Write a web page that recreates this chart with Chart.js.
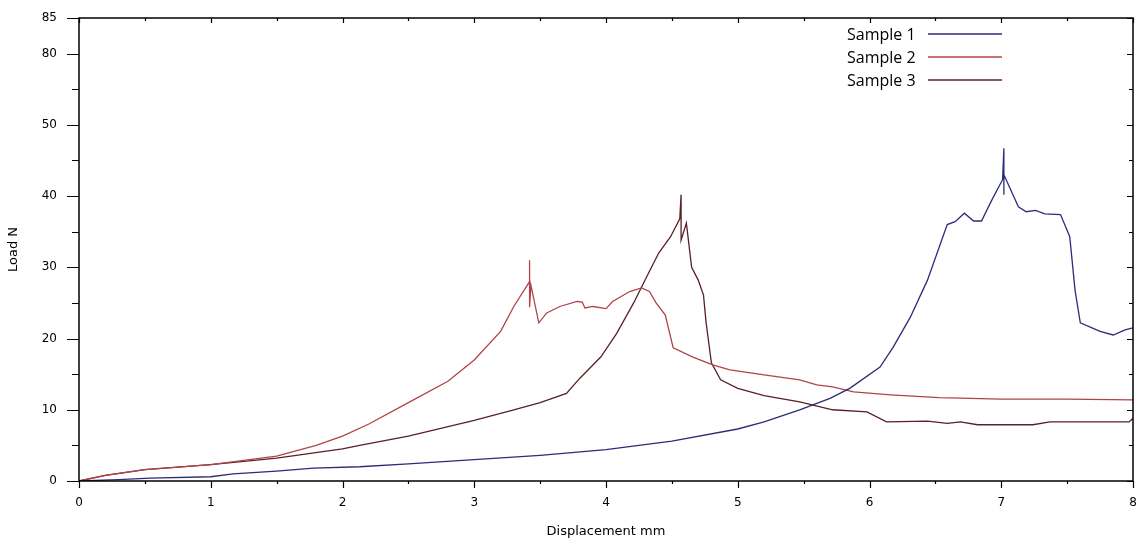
<!DOCTYPE html>
<html>
<head>
<meta charset="utf-8">
<script src="https://cdn.jsdelivr.net/npm/chart.js@4/dist/chart.umd.min.js"></script>
<style>
  html, body { margin: 0; padding: 0; background: #fff; }
  #chart { display: block; }
</style>
</head>
<body>
<canvas id="chart" width="1144" height="544"></canvas>
<script>
// series names
const seriesNames = ['Sample 1', 'Sample 2', 'Sample 3'];

// Sample 1 (displacement mm / load N)
const s1x = [0, 0.3, 0.54, 1.0, 1.17, 1.5, 1.78, 2.13, 2.5, 3.0, 3.5, 4.0, 4.5, 5.0, 5.2, 5.47, 5.7, 5.85, 6.08, 6.18, 6.31, 6.44, 6.59, 6.65, 6.72, 6.79, 6.85, 6.93, 7.01, 7.02, 7.02, 7.02, 7.13, 7.19, 7.26, 7.33, 7.45, 7.52, 7.56, 7.6, 7.75, 7.85, 7.94, 8.0];
const s1y = [0, 0.2, 0.4, 0.6, 1.0, 1.4, 1.8, 2.0, 2.4, 3.0, 3.6, 4.4, 5.6, 7.3, 8.3, 10, 11.6, 13, 16, 18.8, 23, 28.2, 36, 36.4, 37.6, 36.5, 36.5, 39.5, 42.3, 46.7, 40.2, 43, 38.5, 37.8, 38, 37.5, 37.4, 34.3, 26.8, 22.2, 21, 20.5, 21.2, 21.5];

// Sample 2
const s2x = [0, 0.2, 0.5, 1.0, 1.5, 1.8, 2.0, 2.2, 2.5, 2.8, 3.0, 3.2, 3.3, 3.42, 3.42, 3.42, 3.43, 3.49, 3.55, 3.65, 3.78, 3.82, 3.84, 3.9, 4.0, 4.05, 4.18, 4.27, 4.33, 4.38, 4.45, 4.51, 4.66, 4.81, 4.94, 5.2, 5.47, 5.6, 5.72, 5.88, 6.16, 6.53, 7.0, 7.5, 8.0];
const s2y = [0, 0.8, 1.6, 2.3, 3.5, 5, 6.3, 8, 11, 14, 17, 21, 24.5, 28, 31, 24.4, 27.5, 22.2, 23.6, 24.5, 25.2, 25.1, 24.3, 24.5, 24.2, 25.2, 26.6, 27.1, 26.6, 25, 23.3, 18.7, 17.4, 16.3, 15.6, 14.9, 14.2, 13.5, 13.2, 12.5, 12.1, 11.7, 11.5, 11.5, 11.4];

// Sample 3
const s3x = [0, 0.2, 0.5, 1.0, 1.5, 2.0, 2.13, 2.5, 3.0, 3.3, 3.5, 3.7, 3.8, 3.96, 4.08, 4.21, 4.31, 4.4, 4.49, 4.56, 4.57, 4.57, 4.61, 4.65, 4.7, 4.74, 4.76, 4.8, 4.87, 5.0, 5.2, 5.47, 5.72, 5.98, 6.13, 6.44, 6.59, 6.69, 6.82, 7.24, 7.37, 7.97, 8.0];
const s3y = [0, 0.8, 1.6, 2.3, 3.2, 4.5, 5.0, 6.3, 8.5, 10, 11, 12.3, 14.4, 17.4, 20.7, 25, 28.7, 32, 34.3, 36.8, 40.2, 33.8, 36.2, 30, 28.2, 26.1, 22.2, 16.6, 14.2, 13, 12, 11.1, 10, 9.7, 8.3, 8.4, 8.1, 8.3, 7.9, 7.9, 8.3, 8.3, 8.8];

// tick labels as printed on the original
const xTickLabels = ['0', '1', '2', '3', '4', '5', '6', '7', '8'];
const yTickLabels = { 0: '0', 10: '10', 20: '20', 30: '30', 40: '40', 50: '50', 60: '80', 65: '85' };

const colors = ['#2c2c78', '#b04448', '#5a2024'];

function points(xs, ys) {
    return xs.map((x, i) => ({ x: x, y: ys[i] }));
}

// frame + tick marks + legend
const framePlugin = {
    id: 'frame',
    afterDraw(chart) {
        const ctx = chart.ctx;
        const a = chart.chartArea;
        const xs = chart.scales.x;
        const ys = chart.scales.y;
        ctx.save();
        ctx.strokeStyle = '#000';
        ctx.lineWidth = 1.5;
        ctx.strokeRect(a.left, a.top, a.right - a.left, a.bottom - a.top);
        ctx.lineWidth = 1.2;
        ctx.beginPath();
        for (let v = 0; v <= 8.001; v += 0.5) {
            const px = Math.round(xs.getPixelForValue(v)) + 0.5;
            const major = Math.abs(v - Math.round(v)) < 0.01;
            ctx.moveTo(px, a.bottom);
            ctx.lineTo(px, a.bottom + (major ? 7 : 3));
            ctx.moveTo(px, a.top);
            ctx.lineTo(px, a.top + (major ? 5 : 3));
        }
        for (let v = 0; v <= 65; v += 5) {
            const py = Math.round(ys.getPixelForValue(v)) + 0.5;
            const major = v % 10 === 0 || v === 65;
            ctx.moveTo(a.left, py);
            ctx.lineTo(a.left - (major ? 12 : 7), py);
            ctx.moveTo(a.right, py);
            ctx.lineTo(a.right - (major ? 6 : 4), py);
        }
        ctx.stroke();

        // legend: text then line sample
        ctx.font = '16px "Open Sans"';
        ctx.textBaseline = 'middle';
        ctx.fillStyle = '#000';
        const rows = [34, 57, 80];
        seriesNames.forEach((name, i) => {
            ctx.fillText(name, 847, rows[i] + 1);
            ctx.strokeStyle = colors[i];
            ctx.lineWidth = 1.6;
            ctx.beginPath();
            ctx.moveTo(928, rows[i]);
            ctx.lineTo(1002, rows[i]);
            ctx.stroke();
        });
        ctx.restore();
    }
};

const $chart = document.querySelector('#chart');
const ctx = $chart.getContext('2d');

Chart.defaults.font.family = '"DejaVu Sans", sans-serif';
Chart.defaults.font.size = 12;
Chart.defaults.color = '#000';

new Chart(ctx, {
    type: 'line',
    data: {
        datasets: [
            { label: seriesNames[0], data: points(s1x, s1y), borderColor: colors[0] },
            { label: seriesNames[1], data: points(s2x, s2y), borderColor: colors[1] },
            { label: seriesNames[2], data: points(s3x, s3y), borderColor: colors[2] }
        ]
    },
    options: {
        responsive: false,
        animation: false,
        layout: { padding: { top: 18, right: 11, left: 0, bottom: 0 } },
        elements: {
            point: { radius: 0 },
            line: { borderWidth: 1.3, tension: 0 }
        },
        plugins: {
            legend: { display: false },
            tooltip: { enabled: false }
        },
        scales: {
            x: {
                type: 'linear',
                min: 0,
                max: 8,
                grid: { display: false, drawTicks: false },
                border: { display: false },
                ticks: {
                    stepSize: 0.5,
                    maxRotation: 0,
                    autoSkip: false,
                    padding: 15,
                    callback: (v) => Number.isInteger(v) ? xTickLabels[v] : ''
                },
                title: {
                    display: true,
                    text: 'Displacement mm',
                    font: { size: 13 },
                    padding: { top: 0, bottom: 5 }
                },
                afterFit: (s) => {
                    s.height = 63;
                    s.paddingLeft = 0;
                    s.paddingRight = 0;
                }
            },
            y: {
                min: 0,
                max: 65,
                grid: { display: false, drawTicks: false },
                border: { display: false },
                ticks: {
                    stepSize: 5,
                    autoSkip: false,
                    padding: 22,
                    callback: (v) => yTickLabels[v] !== undefined ? yTickLabels[v] : ''
                },
                title: {
                    display: true,
                    text: 'Load N',
                    font: { size: 13 },
                    padding: { top: 6, bottom: 0 }
                },
                afterFit: (s) => {
                    s.width = 79;
                    s.paddingTop = 0;
                    s.paddingBottom = 0;
                }
            }
        }
    },
    plugins: [framePlugin]
});
</script>
</body>
</html>
